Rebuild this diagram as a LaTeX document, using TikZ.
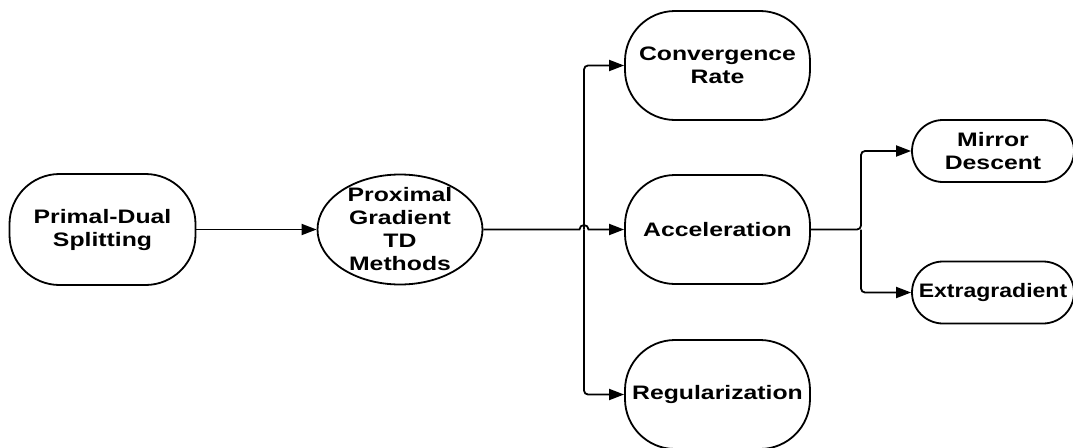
\documentclass[tikz,border=0pt]{standalone}
\usepackage{fontspec}
\usepackage{tikz}
\usetikzlibrary{arrows.meta,shapes.geometric}
\newfontfamily\chartfont{Liberation Sans}[FakeStretch=1.27]
\newfontfamily\chartnarrow{Liberation Sans}[FakeStretch=1.18]

\begin{document}
\begin{tikzpicture}[x=1pt,y=-1pt,
    txt/.style={align=center,inner sep=0pt,font=\chartfont\bfseries\fontsize{19.5}{23}\selectfont},
    bigbox/.style={txt,draw,line width=1.8pt,rounded corners=50pt,minimum width=185pt,minimum height=109pt},
    smallbox/.style={txt,draw,line width=1.8pt,rounded corners=31pt,minimum width=162pt,minimum height=62pt},
    link/.style={line width=1.8pt,-{Triangle[length=15pt,width=11pt]}}]
    \useasboundingbox (0,0) rectangle (1073,447);

    \node[bigbox,minimum width=186pt,minimum height=111pt] (prim) at (102.5,229.5) {Primal-Dual\\Splitting};
    \node[draw,ellipse,line width=1.8pt,minimum width=165pt,minimum height=110pt,inner sep=0pt,
        label={[txt]center:{Proximal\\Gradient\\TD\\Methods}}] (prox) at (400,229.5) {};

    \node[bigbox] (conv) at (717.5,65.5) {Convergence\\Rate};
    \node[bigbox] (accel) at (717.5,229.5) {Acceleration};
    \node[bigbox] (reg) at (717.5,394.5) {Regularization};

    \node[smallbox] (mirror) at (993,151) {Mirror\\Descent};
    \node[smallbox,font=\chartnarrow\bfseries\fontsize{19.5}{23}\selectfont] (extra) at (993,292.5) {Extragradient};

    \coordinate (fork) at (584,229.5);
    \coordinate (fork2) at (861,229.5);

    \draw[link] (prim.east) -- (prox.west);
    \draw[link] (prox.east) -- ([xshift=-4.5pt]fork) arc[start angle=180,end angle=0,radius=4.5pt] -- (accel.west);
    \draw[link,rounded corners=4pt] (fork) |- (conv.west);
    \draw[link,rounded corners=4pt] (fork) |- (reg.west);

    \draw[link,rounded corners=4pt] (accel.east) -- (fork2) |- (mirror.west);
    \draw[link,rounded corners=4pt] (fork2) |- (extra.west);
\end{tikzpicture}
\end{document}
